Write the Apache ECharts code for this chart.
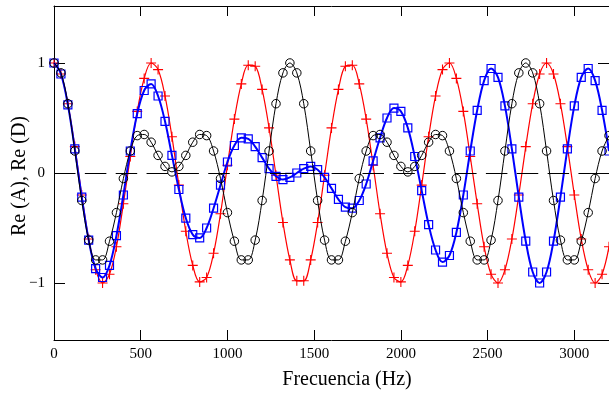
<!DOCTYPE html>
<html><head><meta charset="utf-8">
<script src="https://cdn.jsdelivr.net/npm/echarts@6/dist/echarts.min.js"></script>
<style>html,body{margin:0;padding:0;background:#fff}#c{width:609px;height:394px}</style>
</head><body><div id="c"></div>
<script>
const freq = [0,40,80,120,160,200,240,280,320,360,400,440,480,520,560,600,640,680,720,760,
800,840,880,920,960,1000,1040,1080,1120,1160,1200,1240,1280,1320,1360,1400,1440,1480,1520,1560,
1600,1640,1680,1720,1760,1800,1840,1880,1920,1960,2000,2040,2080,2120,2160,2200,2240,2280,2320,2360,
2400,2440,2480,2520,2560,2600,2640,2680,2720,2760,2800,2840,2880,2920,2960,3000,3040,3080,3120,3160,3200];

const reRed = [1.00,0.90,0.63,0.24,-0.20,-0.60,-0.88,-1.00,-0.92,-0.67,-0.28,0.15,0.56,0.86,1.00,0.94,0.70,0.33,-0.11,-0.53,
-0.84,-0.99,-0.95,-0.73,-0.37,0.07,0.49,0.81,0.98,0.97,0.76,0.41,-0.02,-0.45,-0.79,-0.98,-0.98,-0.79,-0.45,-0.02,
0.41,0.76,0.97,0.98,0.81,0.49,0.07,-0.37,-0.73,-0.95,-0.99,-0.84,-0.53,-0.11,0.33,0.70,0.94,1.00,0.86,0.56,
0.15,-0.28,-0.67,-0.92,-1.00,-0.88,-0.60,-0.20,0.24,0.63,0.90,1.00,0.90,0.63,0.24,-0.20,-0.60,-0.88,-1.00,-0.92,-0.67];

const reBlue = [1.00,0.90,0.62,0.22,-0.22,-0.61,-0.87,-0.95,-0.84,-0.57,-0.20,0.20,0.54,0.75,0.81,0.70,0.47,0.16,-0.15,-0.41,
-0.56,-0.59,-0.50,-0.32,-0.11,0.10,0.25,0.32,0.31,0.24,0.14,0.04,-0.03,-0.06,-0.04,0.00,0.04,0.06,0.03,-0.04,
-0.14,-0.24,-0.31,-0.32,-0.25,-0.10,0.11,0.32,0.50,0.59,0.56,0.41,0.15,-0.16,-0.47,-0.70,-0.81,-0.75,-0.54,-0.20,
0.20,0.57,0.84,0.95,0.87,0.61,0.22,-0.22,-0.62,-0.90,-1.00,-0.90,-0.62,-0.22,0.22,0.61,0.87,0.95,0.84,0.57,0.20];

const reBlack = [1.00,0.91,0.63,0.20,-0.25,-0.61,-0.79,-0.79,-0.62,-0.36,-0.05,0.20,0.34,0.35,0.28,0.16,0.06,0.01,
0.06,0.16,0.28,0.35,0.34,0.20,-0.05,-0.36,-0.62,-0.79,-0.79,-0.61,-0.25,0.20,0.63,0.91,1.00,
0.91,0.63,0.20,-0.25,-0.61,-0.79,-0.79,-0.62,-0.36,-0.05,0.20,0.34,0.35,0.28,0.16,0.06,0.01,
0.06,0.16,0.28,0.35,0.34,0.20,-0.05,-0.36,-0.62,-0.79,-0.79,-0.61,-0.25,0.20,0.63,0.91,1.00,
0.91,0.63,0.20,-0.25,-0.61,-0.79,-0.79,-0.62,-0.36,-0.05,0.20,0.34];

const xTicks = [0,500,1000,1500,2000,2500,3000];
const yTicks = [-1,0,1];

const FONT = '"Liberation Serif", "Times New Roman", serif';
const pair = arr => freq.map((f, i) => [f, arr[i]]);
const plusPath = 'path://M4.45,0H5.55V4.45H10V5.55H5.55V10H4.45V5.55H0V4.45H4.45Z';

const chart = echarts.init(document.getElementById('c'), null, {renderer: 'canvas'});

function xAx(pos, labels) {
  return {
    type: 'value', position: pos, min: 0, max: 3200,
    axisLine: {show: true, onZero: false, lineStyle: {color: '#000', width: 1}},
    axisTick: {show: true, inside: true, length: 10, customValues: xTicks, lineStyle: {color: '#000', width: 1}},
    axisLabel: {show: labels, customValues: xTicks, fontFamily: FONT, fontSize: 15, color: '#000', margin: 7,
      formatter: v => (xTicks.indexOf(v) >= 0 ? String(v) : '')},
    splitLine: {show: false}
  };
}
function yAx(pos, labels) {
  return {
    type: 'value', position: pos, min: -1.518, max: 1.518,
    axisLine: {show: true, onZero: false, lineStyle: {color: '#000', width: 1}},
    axisTick: {show: true, inside: true, length: 11, customValues: yTicks, lineStyle: {color: '#000', width: 1}},
    axisLabel: {show: labels, customValues: yTicks, fontFamily: FONT, fontSize: 15, color: '#000', margin: 9,
      formatter: v => (yTicks.indexOf(v) < 0 ? '' : (v < 0 ? '\u2212' + Math.abs(v) : String(v)))},
    splitLine: {show: false}
  };
}

chart.setOption({
  animation: false,
  backgroundColor: '#fff',
  grid: {left: 54, right: -6, top: 6, bottom: 54, containLabel: false},
  xAxis: [xAx('bottom', true), xAx('top', false)],
  yAxis: [yAx('left', true), yAx('right', false)],
  series: [
    {
      name: 'red', type: 'line', data: pair(reRed), smooth: 0.35,
      showSymbol: true, showAllSymbol: true, symbol: plusPath, symbolSize: 10,
      itemStyle: {color: '#ff0000'},
      lineStyle: {color: '#ff0000', width: 1.2},
      z: 2,
      markLine: {
        silent: true, symbol: 'none', label: {show: false},
        lineStyle: {color: '#000', width: 1.2, type: [21.5, 9.35]},
        data: [{yAxis: 0}]
      }
    },
    {
      name: 'blue', type: 'line', data: pair(reBlue), smooth: 0.35,
      showSymbol: true, showAllSymbol: true, symbol: 'rect', symbolSize: 8,
      itemStyle: {color: 'rgba(0,0,0,0)', borderColor: '#0000ff', borderWidth: 1.2},
      lineStyle: {color: '#0000ff', width: 2},
      z: 3
    },
    {
      name: 'black', type: 'line', data: pair(reBlack), smooth: 0.35,
      showSymbol: true, showAllSymbol: true, symbol: 'circle', symbolSize: 8.5,
      itemStyle: {color: 'rgba(0,0,0,0)', borderColor: '#000', borderWidth: 1},
      lineStyle: {color: '#000', width: 1},
      z: 4
    }
  ],
  graphic: [
    {type: 'text', x: 347, y: 380, style: {text: 'Frecuencia (Hz)', font: '20px ' + FONT, fill: '#000', textAlign: 'center', textVerticalAlign: 'middle'}},
    {type: 'text', x: 19.5, y: 176, rotation: Math.PI / 2, style: {text: 'Re (A), Re (D)', font: '20px ' + FONT, fill: '#000', textAlign: 'center', textVerticalAlign: 'middle'}}
  ]
});
</script>
</body></html>
